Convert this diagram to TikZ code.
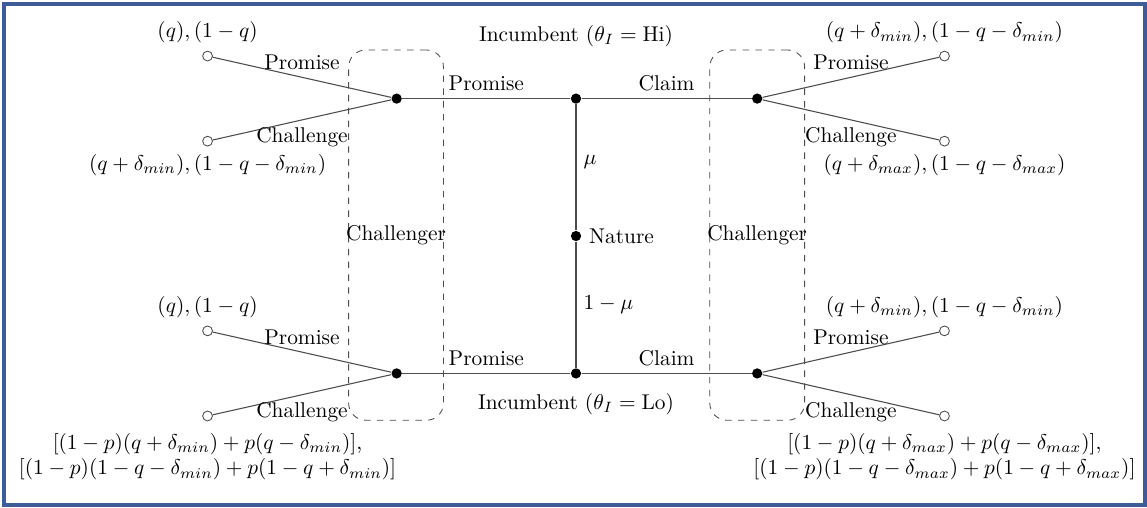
\documentclass[tikz,border=0pt]{standalone}
\usepackage{amsmath, amssymb}
\usepackage{xcolor}
\usetikzlibrary{calc, positioning}

\begin{document}
\begin{tikzpicture}[>=latex,
    dec/.style={circle, fill=black, inner sep=0pt, minimum size=4.8pt},
    term/.style={circle, draw=black!70, fill=white, inner sep=0pt, minimum size=4.6pt},
    branch/.style={draw=black!70, line width=0.5pt},
    infoset/.style={draw=black!70, dashed, rounded corners=8pt, inner sep=0pt,
        minimum width=1.56cm, minimum height=6.09cm}]
    % Colour of the outer frame
    \definecolor{framecol}{RGB}{62, 92, 152}

    % 0. Frame and page size
    \useasboundingbox (-9.474,-4.457) rectangle (9.391,3.882);
    \draw[framecol, line width=1.9pt] (-9.408,-4.424) rectangle (9.359,3.816);

    % 1. Information sets of the challenger
    \node[infoset] (setL) at (-2.96,0.015) {};
    \node[infoset] (setR) at (2.98,0.015) {};
    \node (labSL) at (setL) {Challenger};
    \node (labSR) at (setR) {Challenger};

    % 2. Decision nodes
    \node[dec, label=right:Nature] (nat) at (0,0) {};
    \node[dec] (incH) at (0,2.26) {};
    \node[dec] (incL) at (0,-2.26) {};
    \node[dec] (chHp) at (-2.95,2.26) {};
    \node[dec] (chHc) at (2.98,2.26) {};
    \node[dec] (chLp) at (-2.95,-2.26) {};
    \node[dec] (chLc) at (2.98,-2.26) {};

    \node (labH) at (0,3.29) {Incumbent ($\theta_I = \text{Hi}$)};
    \node (labL) at (0,-2.77) {Incumbent ($\theta_I = \text{Lo}$)};

    % 3. Terminal nodes and payoffs
    \node[term, label=above:{$(q), (1-q)$}] (t1) at (-6.06,2.96) {};
    \node[term, label=below:{$(q+\delta_{min}), (1-q-\delta_{min})$}] (t2) at (-6.06,1.56) {};
    \node[term, label=above:{$(q+\delta_{min}), (1-q-\delta_{min})$}] (t3) at (6.06,2.96) {};
    \node[term, label=below:{$(q+\delta_{max}), (1-q-\delta_{max})$}] (t4) at (6.06,1.56) {};
    \node[term, label=above:{$(q), (1-q)$}] (t5) at (-6.06,-1.56) {};
    \node[term, label={[align=center, label distance=2pt]below:{$[(1-p)(q+\delta_{min})+p(q-\delta_{min})]$,\\
        $[(1-p)(1-q-\delta_{min})+p(1-q+\delta_{min})]$}}] (t6) at (-6.06,-2.96) {};
    \node[term, label=above:{$(q+\delta_{min}), (1-q-\delta_{min})$}] (t7) at (6.06,-1.56) {};
    \node[term, label={[align=center, label distance=2pt]below:{$[(1-p)(q+\delta_{max})+p(q-\delta_{max})]$,\\
        $[(1-p)(1-q-\delta_{max})+p(1-q+\delta_{max})]$}}] (t8) at (6.06,-2.96) {};

    % 4. Moves of nature
    \draw[branch] (nat) -- (incH) node[pos=0.54, right] {$\mu$};
    \draw[branch] (nat) -- (incL) node[pos=0.5, right] {$1-\mu$};

    % 5. Moves of the incumbent
    \draw[branch] (incH) -- (chHp) node[midway, above] {Promise};
    \draw[branch] (incH) -- (chHc) node[midway, above] {Claim};
    \draw[branch] (incL) -- (chLp) node[midway, above] {Promise};
    \draw[branch] (incL) -- (chLc) node[midway, above] {Claim};

    % 6. Moves of the challenger
    \draw[branch] (chHp) -- (t1) node[midway, above] {Promise};
    \draw[branch] (chHp) -- (t2) node[midway, below] {Challenge};
    \draw[branch] (chHc) -- (t3) node[midway, above] {Promise};
    \draw[branch] (chHc) -- (t4) node[midway, below] {Challenge};
    \draw[branch] (chLp) -- (t5) node[midway, above] {Promise};
    \draw[branch] (chLp) -- (t6) node[midway, below] {Challenge};
    \draw[branch] (chLc) -- (t7) node[midway, above] {Promise};
    \draw[branch] (chLc) -- (t8) node[midway, below] {Challenge};
\end{tikzpicture}
\end{document}
